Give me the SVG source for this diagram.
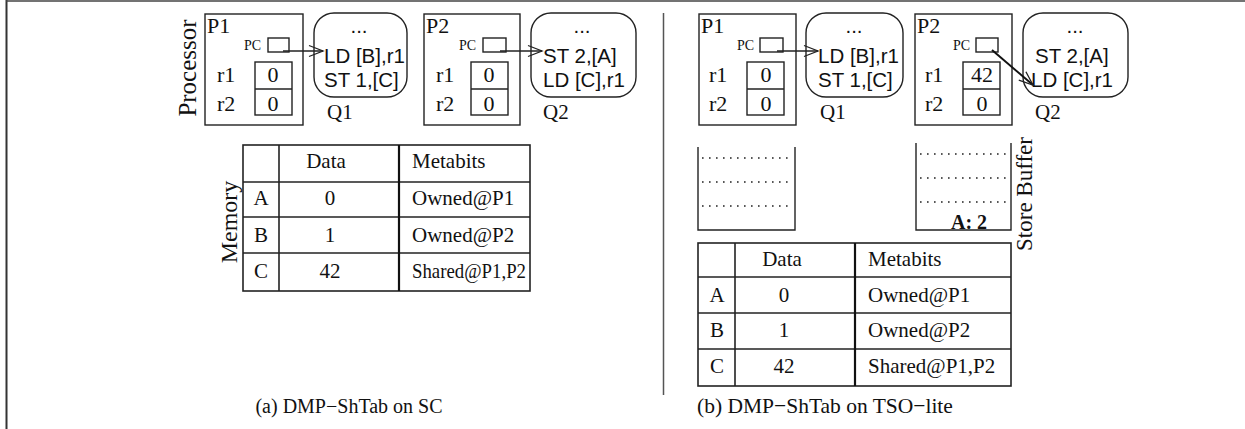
<svg xmlns="http://www.w3.org/2000/svg" width="1245" height="429" viewBox="0 0 1245 429">
<style>
.s{font-family:"Liberation Serif","Times New Roman",serif;fill:#111}
.a{font-family:"Liberation Sans",Arial,sans-serif;fill:#111;font-size:20.5px}
.ln{fill:none;stroke:#222;stroke-width:1.4}
.tb{fill:none;stroke:#222;stroke-width:1.6}
.dot{fill:none;stroke:#222;stroke-width:1.5;stroke-dasharray:1.6 5.4}
.lbl{font-size:22px}
.pc{font-size:14px}
.td{font-size:21px}
.cap{font-size:21.5px}
.m{text-anchor:middle}
</style>
<defs>
<marker id="ah" viewBox="-16 -7 18 14" refX="0" refY="0" markerWidth="18" markerHeight="14" markerUnits="userSpaceOnUse" orient="auto">
<path d="M-14,-5.5 L0,0 L-14,5.5" fill="none" stroke="#222" stroke-width="1.3"/>
</marker>
</defs>
<g id="frame">
<line x1="6.5" y1="0" x2="6.5" y2="429" stroke="#333" stroke-width="2"/>
<line x1="6" y1="1" x2="1245" y2="1" stroke="#444" stroke-width="1.5"/>
<line x1="663.5" y1="13" x2="663.5" y2="395" stroke="#555" stroke-width="1.5"/>
</g>
<text class="s m" font-size="25" transform="translate(196,68) rotate(-90)">Processor</text>
<text class="s m" font-size="24" transform="translate(237,222) rotate(-90)">Memory</text>
<text class="s m" font-size="23" transform="translate(1032,194) rotate(-90)">Store Buffer</text>

<!-- left panel -->
<g id="a-P1">
<rect class="ln" x="205" y="14" width="98" height="111"/>
<text class="s lbl" x="207" y="33">P1</text>
<text class="s pc" x="244" y="50">PC</text>
<rect class="ln" x="268" y="38" width="21" height="14"/>
<rect class="ln" x="255" y="62" width="37" height="53"/>
<line class="ln" x1="255" y1="89" x2="292" y2="89"/>
<text class="s lbl" x="217" y="82">r1</text>
<text class="s lbl" x="217" y="111">r2</text>
<text class="s lbl m" x="273" y="82">0</text>
<text class="s lbl m" x="273" y="111">0</text>
</g>
<g id="a-Q1">
<rect class="ln" x="314" y="13" width="93" height="84" rx="20"/>
<text class="a m" x="359" y="33">...</text>
<text class="a" x="324" y="63">LD [B],r1</text>
<text class="a" x="324" y="87">ST 1,[C]</text>
<text class="s" font-size="21" x="327" y="119">Q1</text>
</g>
<g id="a-P2">
<rect class="ln" x="424" y="14" width="96" height="111"/>
<text class="s lbl" x="426" y="33">P2</text>
<text class="s pc" x="459" y="50">PC</text>
<rect class="ln" x="483" y="38" width="23" height="14"/>
<rect class="ln" x="471" y="62" width="37" height="53"/>
<line class="ln" x1="471" y1="89" x2="508" y2="89"/>
<text class="s lbl" x="436" y="82">r1</text>
<text class="s lbl" x="436" y="111">r2</text>
<text class="s lbl m" x="489" y="82">0</text>
<text class="s lbl m" x="489" y="111">0</text>
</g>
<g id="a-Q2">
<rect class="ln" x="531" y="13" width="105" height="84" rx="20"/>
<text class="a m" x="582" y="33">...</text>
<text class="a" x="543" y="63">ST 2,[A]</text>
<text class="a" x="543" y="87">LD [C],r1</text>
<text class="s" font-size="21" x="543" y="119">Q2</text>
</g>
<g id="a-memory">
<rect class="tb" x="243" y="145" width="287" height="146"/>
<line class="tb" x1="243" y1="182" x2="530" y2="182"/>
<line class="tb" x1="243" y1="217" x2="530" y2="217"/>
<line class="tb" x1="243" y1="253" x2="530" y2="253"/>
<line class="tb" x1="279" y1="145" x2="279" y2="291"/>
<line x1="399" y1="145" x2="399" y2="291" stroke="#111" stroke-width="2.2"/>
<text class="s td m" x="326" y="168">Data</text>
<text class="s td" x="412" y="168">Metabits</text>
<text class="s td m" x="261" y="205">A</text>
<text class="s td m" x="330" y="205">0</text>
<text class="s td" x="412" y="205">Owned@P1</text>
<text class="s td m" x="261" y="242">B</text>
<text class="s td m" x="330" y="242">1</text>
<text class="s td" x="412" y="242">Owned@P2</text>
<text class="s td m" x="261" y="278">C</text>
<text class="s td m" x="330" y="278">42</text>
<text class="s td" x="412" y="278" textLength="114" lengthAdjust="spacingAndGlyphs">Shared@P1,P2</text>
</g>
<text class="s m" font-size="20" x="349" y="413">(a) DMP−ShTab on SC</text>

<!-- right panel -->
<g id="b-P1">
<rect class="ln" x="699" y="14" width="97" height="111"/>
<text class="s lbl" x="701" y="33">P1</text>
<text class="s pc" x="737" y="50">PC</text>
<rect class="ln" x="760" y="38" width="23" height="14"/>
<rect class="ln" x="747" y="62" width="37" height="53"/>
<line class="ln" x1="747" y1="89" x2="784" y2="89"/>
<text class="s lbl" x="709" y="82">r1</text>
<text class="s lbl" x="709" y="111">r2</text>
<text class="s lbl m" x="766" y="82">0</text>
<text class="s lbl m" x="766" y="111">0</text>
</g>
<g id="b-Q1">
<rect class="ln" x="806" y="13" width="97" height="84" rx="20"/>
<text class="a m" x="854" y="33">...</text>
<text class="a" x="818" y="63">LD [B],r1</text>
<text class="a" x="818" y="87">ST 1,[C]</text>
<text class="s" font-size="21" x="820" y="119">Q1</text>
</g>
<g id="b-P2">
<rect class="ln" x="915" y="14" width="97" height="111"/>
<text class="s lbl" x="917" y="33">P2</text>
<text class="s pc" x="953" y="50">PC</text>
<rect class="ln" x="976" y="38" width="22" height="14"/>
<rect class="ln" x="963" y="62" width="37" height="53"/>
<line class="ln" x1="963" y1="89" x2="1000" y2="89"/>
<text class="s lbl" x="925" y="82">r1</text>
<text class="s lbl" x="925" y="111">r2</text>
<text class="s lbl m" x="982" y="82">42</text>
<text class="s lbl m" x="982" y="111">0</text>
</g>
<g id="b-Q2">
<rect class="ln" x="1023" y="13" width="105" height="84" rx="20"/>
<text class="a m" x="1075" y="33">...</text>
<text class="a" x="1035" y="63">ST 2,[A]</text>
<text class="a" x="1031" y="87">LD [C],r1</text>
<text class="s" font-size="21" x="1035" y="119">Q2</text>
</g>
<g id="b-SB1">
<path class="ln" d="M698,147 V230 H795 V147"/>
<line class="dot" x1="702" y1="158" x2="792" y2="158"/>
<line class="dot" x1="702" y1="182" x2="792" y2="182"/>
<line class="dot" x1="702" y1="206" x2="792" y2="206"/>
</g>
<g id="b-SB2">
<path class="ln" d="M916,143 V230 H1011 V143"/>
<line class="dot" x1="920" y1="154" x2="1008" y2="154"/>
<line class="dot" x1="920" y1="178" x2="1008" y2="178"/>
<line class="dot" x1="920" y1="202" x2="1008" y2="202"/>
<text class="s" font-size="20" font-weight="bold" x="951" y="229">A: 2</text>
</g>
<g id="b-memory">
<rect class="tb" x="698" y="243" width="313" height="143"/>
<line class="tb" x1="698" y1="277" x2="1011" y2="277"/>
<line class="tb" x1="698" y1="313" x2="1011" y2="313"/>
<line class="tb" x1="698" y1="349" x2="1011" y2="349"/>
<line class="tb" x1="735" y1="243" x2="735" y2="386"/>
<line x1="855" y1="243" x2="855" y2="386" stroke="#111" stroke-width="2.2"/>
<text class="s td m" x="782" y="266">Data</text>
<text class="s td" x="868" y="266">Metabits</text>
<text class="s td m" x="717" y="302">A</text>
<text class="s td m" x="784" y="302">0</text>
<text class="s td" x="868" y="302">Owned@P1</text>
<text class="s td m" x="717" y="337">B</text>
<text class="s td m" x="784" y="337">1</text>
<text class="s td" x="868" y="337">Owned@P2</text>
<text class="s td m" x="717" y="373">C</text>
<text class="s td m" x="784" y="373">42</text>
<text class="s td" x="868" y="373">Shared@P1,P2</text>
</g>
<text class="s cap" x="697" y="413">(b) DMP−ShTab on TSO−lite</text>

<g id="connectors">
<line class="ln" x1="283" y1="51" x2="323" y2="51" marker-end="url(#ah)"/>
<line class="ln" x1="500" y1="51" x2="542" y2="51" marker-end="url(#ah)"/>
<line class="ln" x1="777" y1="51" x2="818" y2="51" marker-end="url(#ah)"/>
<line x1="992" y1="50" x2="1033" y2="85" stroke="#111" stroke-width="2" marker-end="url(#ah)"/>
</g>
</svg>
